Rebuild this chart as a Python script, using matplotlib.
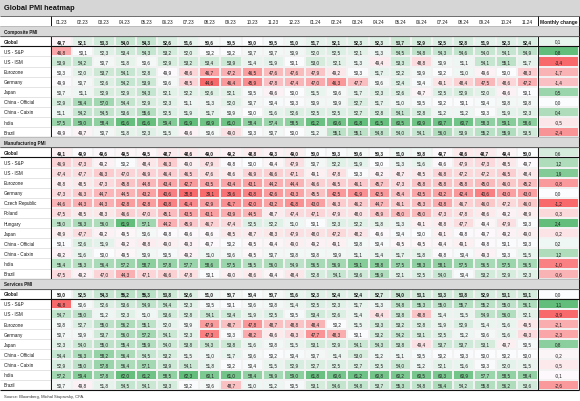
import matplotlib
matplotlib.use("Agg")
import matplotlib.pyplot as plt
import numpy as np
from matplotlib.colors import LinearSegmentedColormap, TwoSlopeNorm

months = ["01.23", "02.23", "03.23", "04.23", "05.23", "06.23", "07.23", "08.23", "09.23", "10.23", "11.23", "12.23",
          "01.24", "02.24", "03.24", "04.24", "05.24", "06.24", "07.24", "08.24", "09.24", "10.24", "11.24"]

comp_labels = ["Global", "US - S&P", "US - ISM", "Eurozone", "Germany", "Japan",
               "China - Official", "China - Caixin", "India", "Brazil"]
comp_values = [
    [49.7, 52.1, 53.3, 54.0, 54.3, 52.6, 51.6, 50.6, 50.5, 50.0, 50.5, 51.0, 51.7, 52.1, 52.3, 52.3, 53.7, 52.9, 52.5, 52.8, 51.9, 52.3, 52.4],
    [46.8, 50.1, 52.3, 53.4, 54.3, 53.2, 52.0, 50.2, 50.2, 50.7, 50.7, 50.9, 52.0, 52.5, 52.1, 51.3, 54.5, 54.8, 54.3, 54.6, 54.0, 54.1, 54.9],
    [53.9, 54.2, 50.7, 51.8, 50.6, 52.9, 53.2, 53.4, 53.9, 51.4, 51.9, 50.1, 53.0, 52.1, 51.3, 49.4, 53.3, 48.8, 50.9, 51.1, 54.1, 55.1, 51.7],
    [50.3, 52.0, 53.7, 54.1, 52.8, 49.9, 48.6, 46.7, 47.2, 46.5, 47.6, 47.6, 47.9, 49.2, 50.3, 51.7, 52.2, 50.9, 50.2, 51.0, 49.6, 50.0, 48.3],
    [49.9, 50.7, 52.6, 54.2, 53.9, 50.6, 48.5, 44.6, 46.4, 45.9, 47.8, 47.4, 47.0, 46.3, 47.7, 50.6, 52.4, 50.4, 49.1, 48.4, 47.5, 48.6, 47.2],
    [50.7, 51.1, 52.9, 52.9, 54.3, 52.1, 52.2, 52.6, 52.1, 50.5, 49.6, 50.0, 51.5, 50.6, 51.7, 52.3, 52.6, 49.7, 52.5, 52.9, 52.0, 49.6, 50.1],
    [52.9, 56.4, 57.0, 54.4, 52.9, 52.3, 51.1, 51.3, 52.0, 50.7, 50.4, 50.3, 50.9, 50.9, 52.7, 51.7, 51.0, 50.5, 50.2, 50.1, 50.4, 50.8, 50.8],
    [51.1, 54.2, 54.5, 53.6, 55.6, 52.5, 51.9, 51.7, 50.9, 50.0, 51.6, 52.6, 52.5, 52.5, 52.7, 52.8, 54.1, 52.8, 51.2, 51.2, 50.3, 51.9, 52.3],
    [57.5, 59.0, 58.4, 61.6, 61.6, 59.4, 61.9, 60.9, 61.0, 58.4, 57.4, 58.5, 61.2, 60.6, 61.8, 61.5, 60.5, 60.9, 60.7, 60.7, 58.3, 59.1, 58.6],
    [49.9, 49.7, 50.7, 51.8, 52.3, 51.5, 49.6, 50.6, 49.0, 50.3, 50.7, 50.0, 51.2, 55.1, 55.1, 54.8, 54.0, 54.1, 56.0, 53.9, 55.2, 55.9, 53.5],
]
comp_change = [0.1, 0.8, -3.4, -1.7, -1.4, 0.5, 0.0, 0.4, -0.5, -2.4]

mfg_labels = ["Global", "US - S&P", "US - ISM", "Eurozone", "Germany", "Czech Republic", "Poland", "Hungary",
              "Japan", "China - Official", "China - Caixin", "India", "Brazil"]
mfg_values = [
    [49.1, 49.9, 49.6, 49.5, 49.5, 48.7, 48.6, 49.0, 49.2, 48.8, 49.3, 49.0, 50.0, 50.3, 50.6, 50.3, 51.0, 50.8, 49.7, 48.6, 48.7, 49.4, 50.0],
    [46.9, 47.3, 49.2, 50.2, 48.4, 46.3, 49.0, 47.9, 49.8, 50.0, 49.4, 47.9, 50.7, 52.2, 51.9, 50.0, 51.3, 51.6, 49.6, 47.9, 47.3, 48.5, 49.7],
    [47.4, 47.7, 46.3, 47.0, 46.9, 46.4, 46.5, 47.6, 48.6, 46.9, 46.6, 47.1, 49.1, 47.8, 50.3, 49.2, 48.7, 48.5, 46.8, 47.2, 47.2, 46.5, 48.4],
    [48.8, 48.5, 47.3, 45.8, 44.8, 43.4, 42.7, 43.5, 43.4, 43.1, 44.2, 44.4, 46.6, 46.5, 46.1, 45.7, 47.3, 45.8, 45.8, 45.8, 45.0, 46.0, 45.2],
    [47.3, 46.3, 44.7, 44.5, 43.2, 40.6, 38.8, 39.1, 39.6, 40.8, 42.6, 43.3, 45.5, 42.5, 41.9, 42.5, 45.4, 43.5, 43.2, 42.4, 40.6, 43.0, 43.0],
    [44.6, 44.3, 44.3, 42.8, 42.8, 40.8, 41.4, 42.9, 41.7, 42.0, 43.2, 41.8, 43.0, 46.3, 46.2, 44.7, 46.1, 45.3, 43.8, 46.7, 46.0, 47.2, 46.0],
    [47.5, 48.5, 48.3, 46.6, 47.0, 45.1, 43.5, 43.1, 43.9, 44.5, 48.7, 47.4, 47.1, 47.9, 48.0, 45.9, 45.0, 45.0, 47.3, 47.8, 48.6, 49.2, 48.9],
    [55.0, 56.3, 56.0, 61.9, 57.1, 44.2, 45.9, 46.7, 47.4, 52.5, 52.2, 51.0, 50.1, 52.3, 52.2, 51.8, 51.3, 49.1, 48.8, 47.7, 49.4, 47.9, 50.3],
    [48.9, 47.7, 49.2, 49.5, 50.6, 49.8, 49.6, 49.6, 48.5, 48.7, 48.3, 47.9, 48.0, 47.2, 48.2, 49.6, 50.4, 50.0, 49.1, 49.8, 49.7, 49.2, 49.0],
    [50.1, 52.6, 51.9, 49.2, 48.8, 49.0, 49.3, 49.7, 50.2, 49.5, 49.4, 49.0, 49.2, 49.1, 50.8, 50.4, 49.5, 49.5, 49.4, 49.1, 49.8, 50.1, 50.3],
    [49.2, 51.6, 50.0, 49.5, 50.9, 50.5, 49.2, 51.0, 50.6, 49.5, 50.7, 50.8, 50.8, 50.9, 51.1, 51.4, 51.7, 51.8, 49.8, 50.4, 49.3, 50.3, 51.5],
    [55.4, 55.3, 56.4, 57.2, 58.7, 57.8, 57.7, 58.6, 57.5, 55.5, 56.0, 54.9, 56.5, 56.9, 59.1, 58.8, 57.5, 58.3, 58.1, 57.5, 56.5, 57.5, 56.5],
    [47.5, 49.2, 47.0, 44.3, 47.1, 46.6, 47.8, 50.1, 49.0, 48.6, 49.4, 48.4, 52.8, 54.1, 53.6, 55.9, 52.1, 52.5, 54.0, 50.4, 53.2, 52.9, 52.3],
]
mfg_change = [0.6, 1.2, 1.9, -0.8, 0.0, -1.2, -0.3, 2.4, -0.2, 0.2, 1.2, -1.0, -0.6]

srv_labels = ["Global", "US - S&P", "US - ISM", "Eurozone", "Germany", "Japan",
              "China - Official", "China - Caixin", "India", "Brazil"]
srv_values = [
    [50.0, 52.5, 54.3, 55.2, 55.3, 53.8, 52.6, 51.0, 50.7, 50.4, 50.7, 51.6, 52.3, 52.4, 52.4, 52.7, 54.0, 53.1, 53.3, 53.8, 52.9, 53.1, 53.1],
    [46.8, 50.6, 52.6, 53.6, 54.9, 54.4, 52.3, 50.5, 50.1, 50.6, 50.8, 51.4, 52.5, 52.3, 51.7, 51.3, 54.8, 55.3, 55.0, 55.7, 55.2, 55.0, 56.1],
    [54.7, 55.0, 51.2, 52.3, 51.0, 53.6, 52.8, 54.1, 53.4, 51.9, 52.5, 50.5, 53.4, 52.6, 51.4, 49.4, 53.8, 48.8, 51.4, 51.5, 54.9, 56.0, 52.1],
    [50.8, 52.7, 55.0, 56.2, 55.1, 52.0, 50.9, 47.9, 48.7, 47.8, 48.7, 48.8, 48.4, 50.2, 51.5, 53.3, 53.2, 52.8, 51.9, 52.9, 51.4, 51.6, 49.5],
    [50.7, 50.9, 53.7, 56.0, 57.2, 54.1, 52.3, 47.3, 50.3, 48.2, 49.6, 49.3, 47.7, 48.3, 50.1, 53.2, 54.2, 53.1, 52.5, 51.2, 50.6, 51.6, 49.3],
    [52.3, 54.0, 55.0, 55.4, 55.9, 54.0, 53.8, 54.3, 53.8, 51.6, 50.8, 51.5, 53.1, 52.9, 54.1, 54.3, 53.8, 49.4, 53.7, 53.7, 53.1, 49.7, 50.5],
    [54.4, 56.3, 58.2, 56.4, 54.5, 53.2, 51.5, 51.0, 51.7, 50.6, 50.2, 50.4, 50.7, 51.4, 53.0, 51.2, 51.1, 50.5, 50.2, 50.3, 50.0, 50.2, 50.0],
    [52.9, 55.0, 57.8, 56.4, 57.1, 53.9, 54.1, 51.8, 50.2, 50.4, 51.5, 52.9, 52.7, 52.5, 52.7, 52.5, 54.0, 51.2, 52.1, 51.6, 50.3, 52.0, 51.5],
    [57.2, 59.4, 57.8, 62.0, 61.2, 58.5, 62.3, 60.1, 61.0, 58.4, 56.9, 59.0, 61.8, 60.6, 61.2, 60.8, 60.2, 60.5, 60.3, 60.9, 57.7, 58.5, 58.4],
    [50.7, 49.8, 51.8, 54.5, 54.1, 53.3, 50.2, 50.6, 48.7, 51.0, 51.2, 50.5, 53.1, 54.6, 54.8, 53.7, 55.3, 54.8, 56.4, 54.2, 55.8, 56.2, 53.6],
]
srv_change = [0.0, 1.1, -3.9, -2.1, -2.3, 0.8, -0.2, -0.5, -0.1, -2.6]

sections = [("Composite PMI", comp_labels, comp_values, comp_change),
            ("Manufacturing PMI", mfg_labels, mfg_values, mfg_change),
            ("Services PMI", srv_labels, srv_values, srv_change)]

# ---------------- layout ----------------
W, H = 580, 402
X0 = 51.0          # end of label column
CW = 21.17         # month column width
MCX = X0 + CW * len(months)
MCW = 41.0
XR = MCX + MCW
RH = 10.1
Y0 = 17.0
FONT = "Liberation Sans"
FS = 3.3
TXT = "#1a1a1a"

cmap = LinearSegmentedColormap.from_list("rwg", ["#F8696B", "#FCFCFF", "#63BE7B"])

fig = plt.figure(figsize=(W / 100, H / 100), dpi=100)
ax = fig.add_axes([0, 0, 1, 1])
ax.set_xlim(0, W)
ax.set_ylim(H, 0)
ax.axis("off")

def fmt(v):
    return f"{v:.1f}".replace(".", ",")

# title bar
ax.add_patch(plt.Rectangle((0, 0), W, Y0, facecolor="#d6d6d6", edgecolor="none", zorder=1))
ax.text(4, Y0 / 2 + 0.5, "Global PMI heatmap", fontsize=5.3, fontweight="bold", family=FONT,
        color="#111111", va="center", ha="left", zorder=5)
ax.hlines(Y0, 0, XR, color="#555555", lw=0.6, zorder=6)

# header row
yc = Y0 + RH / 2
for j, m in enumerate(months):
    ax.text(X0 + CW * (j + 0.5), yc, m, fontsize=FS, family=FONT, color=TXT,
            ha="center", va="center", zorder=5)
ax.text(MCX + MCW / 2, yc, "Monthly change", fontsize=FS + 0.2, family=FONT, fontweight="bold",
        color=TXT, ha="center", va="center", zorder=5)
ax.hlines(Y0 + RH, 0, XR, color="#333333", lw=0.6, zorder=6)

row = 1
xe = X0 + CW * np.arange(len(months) + 1)
for title, labels, values, change in sections:
    # section bar
    ytop = Y0 + row * RH
    ax.add_patch(plt.Rectangle((0, ytop), XR, RH, facecolor="#d9d9d9", edgecolor="none", zorder=7))
    ax.hlines([ytop, ytop + RH], 0, XR, color="#a6a6a6", lw=0.4, zorder=8)
    ax.text(4, ytop + RH / 2, title, fontsize=FS, fontweight="bold", family=FONT, color=TXT,
            ha="left", va="center", zorder=9)
    row += 1
    vals = np.array(values)
    ch = np.array(change)
    n = len(labels)
    ys = Y0 + RH * (row + np.arange(n + 1))
    norm = TwoSlopeNorm(vmin=vals.min(), vcenter=50, vmax=vals.max())
    ax.pcolormesh(xe, ys, vals, cmap=cmap, norm=norm, edgecolors="#f2f2f2", linewidth=0.25, zorder=2)
    cnorm = TwoSlopeNorm(vmin=min(ch.min(), -0.01), vcenter=0, vmax=max(ch.max(), 0.01))
    ax.pcolormesh([MCX, XR], ys, ch.reshape(-1, 1), cmap=cmap, norm=cnorm,
                  edgecolors="#f2f2f2", linewidth=0.25, zorder=2)
    ax.hlines(ys[1:-1], 0, X0, color="#d0d0d0", lw=0.4, zorder=3)
    for i, lab in enumerate(labels):
        yc = (ys[i] + ys[i + 1]) / 2
        bold = "bold" if i == 0 else "normal"
        ax.text(4, yc, lab, fontsize=FS, fontweight=bold, family=FONT, color=TXT,
                ha="left", va="center", zorder=5)
        for j in range(len(months)):
            ax.text(X0 + CW * (j + 0.5), yc, fmt(vals[i, j]), fontsize=FS, fontweight=bold,
                    family=FONT, color=TXT, ha="center", va="center", zorder=5)
        ax.text(MCX + MCW / 2, yc, fmt(ch[i]), fontsize=FS, family=FONT, color=TXT,
                ha="center", va="center", zorder=5)
    # global row borders and section bottom
    ax.hlines([ys[0], ys[1]], 0, XR, color="#111111", lw=0.8, zorder=6)
    ax.hlines(ys[-1], 0, XR, color="#111111", lw=0.8, zorder=6)
    row += n

ybot = Y0 + RH * row
ax.vlines([X0, MCX, XR], Y0, ybot, color="#111111", lw=0.7, zorder=6)

ax.text(4, ybot + 6, "Source: Bloomberg, Michal Stupavsky, CFA.", fontsize=3.0, family=FONT,
        color="#333333", ha="left", va="center", zorder=5)

fig.savefig("out.png", dpi=100, facecolor="white")
